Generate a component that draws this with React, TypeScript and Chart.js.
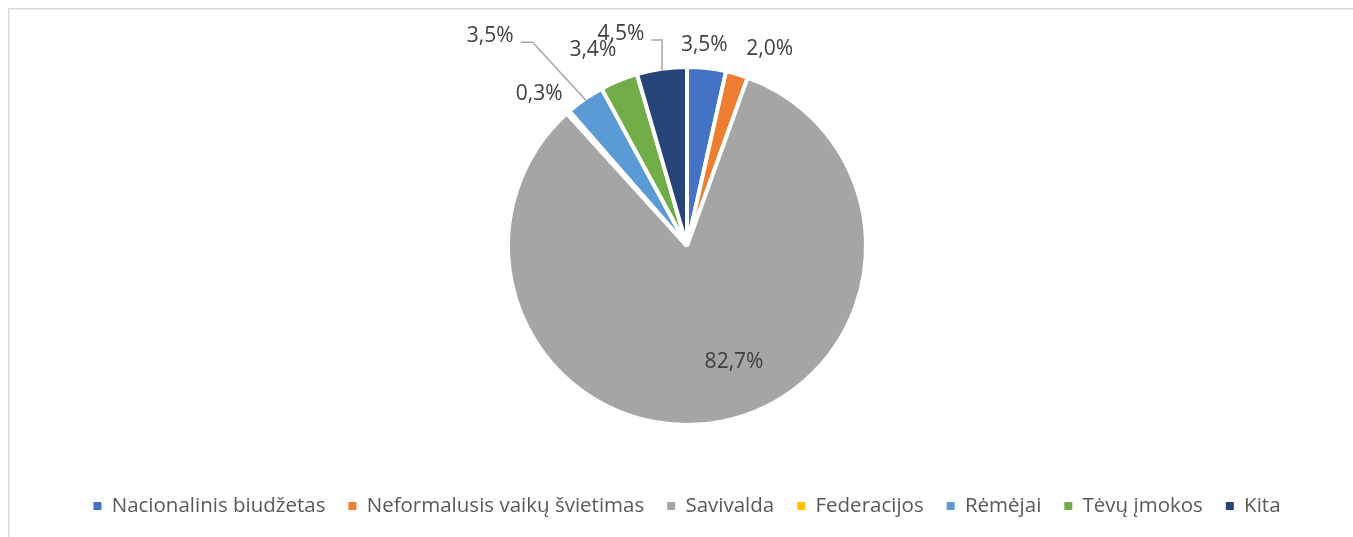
import React, { useEffect, useRef } from "react";
import { Chart, registerables } from "chart.js";

Chart.register(...registerables);

const categories = [
  "Nacionalinis biudžetas",
  "Neformalusis vaikų švietimas",
  "Savivalda",
  "Federacijos",
  "Rėmėjai",
  "Tėvų įmokos",
  "Kita",
];
const values = [3.5, 2.0, 82.7, 0.3, 3.5, 3.4, 4.5];
const sliceColors = ["#4472C4", "#ED7D31", "#A5A5A5", "#FFC000", "#5B9BD5", "#70AD47", "#264478"];
const labelInside = [false, false, true, false, false, false, false];
const labelNudge: [number, number][] = [
  [-5, 1],
  [26, -2],
  [23, -6],
  [-13, 0],
  [-81, -43],
  [-17, -8],
  [-37.5, -11],
];
const hasLeader = [false, false, false, false, true, false, true];

const FONT = "'Open Sans', 'Noto Sans', sans-serif";

const fmt = (v: number) => v.toFixed(1).replace(".", ",") + "%";

const framePlugin = {
  id: "frame",
  beforeDraw(chart: any) {
    const ctx = chart.ctx;
    ctx.save();
    ctx.fillStyle = "#ffffff";
    ctx.fillRect(0, 0, chart.width, chart.height);
    ctx.strokeStyle = "#d9d9d9";
    ctx.lineWidth = 1.5;
    ctx.beginPath();
    ctx.moveTo(8.75, chart.height + 5);
    ctx.lineTo(8.75, 8.75);
    ctx.lineTo(chart.width + 5, 8.75);
    ctx.stroke();
    ctx.restore();
  },
};

const labelPlugin = {
  id: "sliceLabels",
  afterDatasetsDraw(chart: any) {
    const ctx = chart.ctx;
    const meta = chart.getDatasetMeta(0);
    ctx.save();
    ctx.font = `21px ${FONT}`;
    ctx.textAlign = "center";
    ctx.textBaseline = "middle";
    meta.data.forEach((arc: any, i: number) => {
      const { x, y, startAngle, endAngle, outerRadius } = arc.getProps(
        ["x", "y", "startAngle", "endAngle", "outerRadius"],
        true
      );
      const mid = (startAngle + endAngle) / 2;
      const dist = labelInside[i] ? outerRadius * 0.693 : outerRadius + 24;
      const lx = x + Math.cos(mid) * dist + labelNudge[i][0];
      const ly = y + Math.sin(mid) * dist + labelNudge[i][1];
      const text = fmt(values[i]);
      if (hasLeader[i]) {
        const w = ctx.measureText(text).width;
        const sx = lx + w / 2 + 7;
        const sy = ly + 6;
        const ex = x + Math.cos(mid) * (outerRadius - 2);
        const ey = y + Math.sin(mid) * (outerRadius - 2);
        ctx.strokeStyle = "#a6a6a6";
        ctx.lineWidth = 1.5;
        ctx.beginPath();
        ctx.moveTo(sx, sy);
        ctx.lineTo(Math.min(sx + 12, ex), sy);
        ctx.lineTo(ex, ey);
        ctx.stroke();
      }
      ctx.fillStyle = "#404040";
      ctx.fillText(text, lx, ly);
    });
    ctx.restore();
  },
};

export default function App() {
  const canvasRef = useRef<HTMLCanvasElement | null>(null);

  useEffect(() => {
    if (!canvasRef.current) return;
    const baseGenerate = (Chart as any).overrides.pie.plugins.legend.labels.generateLabels;
    const chart = new Chart(canvasRef.current, {
      type: "pie",
      data: {
        labels: categories,
        datasets: [
          {
            data: values,
            backgroundColor: sliceColors,
            borderColor: "#ffffff",
            borderWidth: 4,
            radius: 179,
          } as any,
        ],
      },
      options: {
        animation: false,
        responsive: false,
        events: [],
        layout: { padding: { left: 21, right: 0, top: 19.25, bottom: 10.75 } },
        plugins: {
          legend: {
            display: true,
            position: "bottom",
            labels: {
              boxWidth: 8,
              boxHeight: 8,
              padding: 23,
              color: "#595959",
              font: { family: FONT, size: 20.5 },
              generateLabels: (c: any) =>
                baseGenerate(c).map((it: any) => ({ ...it, lineWidth: 0, strokeStyle: "rgba(0,0,0,0)" })),
            },
          },
          tooltip: { enabled: false },
        },
      },
      plugins: [framePlugin, labelPlugin],
    });
    return () => chart.destroy();
  }, []);

  return (
    <div style={{ position: "fixed", left: 0, top: 0, width: 1353, height: 537, background: "#fff" }}>
      <canvas ref={canvasRef} width={1353} height={537} style={{ display: "block" }} />
    </div>
  );
}
